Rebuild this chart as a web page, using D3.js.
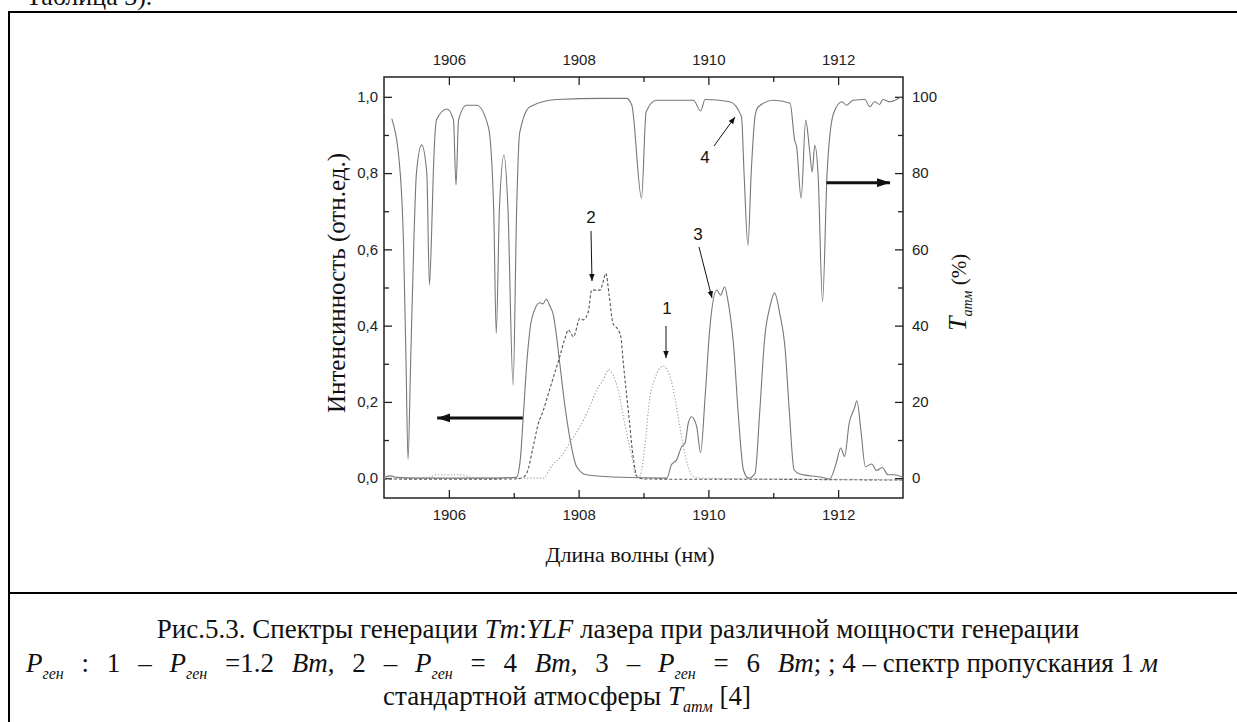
<!DOCTYPE html>
<html>
<head>
<meta charset="utf-8">
<script src="https://cdn.jsdelivr.net/npm/d3@7"></script>
<style>
  body { margin: 0; background: #fff; }
  svg { display: block; }
  .tick text { font-family: "Liberation Sans", Arial, sans-serif; font-size: 15px; fill: #222; }
  .tick line { stroke: #222; stroke-width: 1.3; }
  .serif { font-family: "Liberation Serif", "Times New Roman", serif; fill: #111; }
  .num { font-family: "Liberation Sans", Arial, sans-serif; font-size: 17px; fill: #111; }
</style>
</head>
<body>
<script>
// axis ticks
let xTicks = [1906, 1908, 1910, 1912];
let xMinor = [1907, 1909, 1911];
let yTicks = [0, 0.2, 0.4, 0.6, 0.8, 1.0];
let yMinor = [0.1, 0.3, 0.5, 0.7, 0.9];
let tTicks = [0, 20, 40, 60, 80, 100];
let tMinor = [10, 30, 50, 70, 90];

// 4 - transmission of 1 m standard atmosphere, %
let atmWl = [1905.12, 1905.25, 1905.30, 1905.34, 1905.37, 1905.41, 1905.46, 1905.50, 1905.58, 1905.66,
  1905.70, 1905.735, 1905.76, 1905.81, 1905.97, 1906.07, 1906.11, 1906.15, 1906.27, 1906.43,
  1906.61, 1906.69, 1906.73, 1906.78, 1906.85, 1906.91, 1906.99, 1907.045, 1907.09, 1907.25,
  1907.66, 1908.38, 1908.74, 1908.82, 1908.97, 1909.04, 1909.20, 1909.77, 1909.88, 1909.95,
  1910.33, 1910.51, 1910.55, 1910.61, 1910.66, 1910.72, 1910.77, 1911.00, 1911.26, 1911.33,
  1911.36, 1911.43, 1911.50, 1911.56, 1911.60, 1911.64, 1911.69, 1911.76, 1911.83, 1911.93,
  1912.06, 1912.13, 1912.23, 1912.41, 1912.49, 1912.56, 1912.64, 1912.69, 1912.80, 1912.97];
let atmT = [94.3, 80, 62, 30, 5, 30, 62, 80, 87.4, 80,
  50.7, 65, 80, 94, 96.8, 94, 76.9, 94, 97.8, 97.8,
  92, 71, 38, 71, 84.7, 71, 24.4, 71, 90.4, 97.4,
  99.3, 99.6, 99.6, 97.8, 73.4, 96, 99.1, 99.1, 96.3, 99.3,
  98.7, 94.8, 80, 61, 80, 95, 97.4, 99.1, 98.3, 88.6,
  86.9, 73.4, 93.9, 86, 80.3, 87.3, 80, 46.3, 80, 95.7,
  98.7, 97.8, 99.1, 99.3, 97.4, 98.7, 98, 99.3, 98.7, 100];

// 1 - P = 1.2 W (dotted)
let gen1Wl = [1905.0, 1905.7, 1905.8, 1906.2, 1906.35, 1907.45, 1907.60, 1907.73, 1907.86, 1908.02,
  1908.15, 1908.28, 1908.38, 1908.46, 1908.53, 1908.61, 1908.71, 1908.82, 1908.89, 1908.93,
  1908.97, 1909.02, 1909.10, 1909.17, 1909.30, 1909.40, 1909.48, 1909.56, 1909.66, 1909.77,
  1909.9, 1911.0, 1912.0, 1913.0];
let gen1 = [0, 0.002, 0.009, 0.009, 0.002, 0, 0.035, 0.057, 0.092, 0.135,
  0.179, 0.231, 0.258, 0.284, 0.271, 0.231, 0.144, 0.057, 0.004, 0.002,
  0.02, 0.083, 0.214, 0.258, 0.294, 0.271, 0.214, 0.135, 0.048, 0.004,
  0, -0.002, -0.003, -0.004];

// 2 - P = 4 W (dashed)
let gen2Wl = [1905.0, 1906.0, 1907.0, 1907.12, 1907.20, 1907.30, 1907.38, 1907.45, 1907.55, 1907.63,
  1907.71, 1907.79, 1907.84, 1907.92, 1908.02, 1908.07, 1908.15, 1908.20, 1908.33, 1908.37,
  1908.42, 1908.47, 1908.53, 1908.61, 1908.65, 1908.69, 1908.77, 1908.84, 1908.90, 1909.0,
  1910.0, 1911.0, 1912.0, 1913.0];
let gen2 = [-0.002, -0.003, -0.002, 0, 0.013, 0.083, 0.144, 0.175, 0.231, 0.275,
  0.319, 0.367, 0.389, 0.371, 0.419, 0.415, 0.437, 0.493, 0.493, 0.51,
  0.537, 0.48, 0.406, 0.389, 0.371, 0.30, 0.17, 0.057, 0.004, -0.002,
  -0.003, -0.003, -0.004, -0.005];

// 3 - P = 6 W (solid)
let gen3Wl = [1905.0, 1905.1, 1905.2, 1905.5, 1906.5, 1907.04, 1907.10, 1907.15, 1907.20, 1907.25,
  1907.33, 1907.40, 1907.45, 1907.50, 1907.56, 1907.61, 1907.66, 1907.71, 1907.79, 1907.87,
  1907.97, 1908.12, 1908.53, 1909.36, 1909.43, 1909.51, 1909.59, 1909.64, 1909.69, 1909.74,
  1909.82, 1909.88, 1909.95, 1910.02, 1910.13, 1910.19, 1910.25, 1910.30, 1910.39, 1910.46,
  1910.54, 1910.62, 1910.72, 1910.79, 1910.87, 1910.95, 1911.02, 1911.10, 1911.18, 1911.25,
  1911.32, 1911.41, 1911.72, 1911.87, 1911.97, 1912.04, 1912.10, 1912.17, 1912.25, 1912.29,
  1912.35, 1912.42, 1912.52, 1912.59, 1912.68, 1912.77, 1912.87, 1913.0];
let gen3 = [0.002, 0.006, 0.002, 0, 0, 0.002, 0.048, 0.17, 0.30, 0.39,
  0.445, 0.46, 0.457, 0.469, 0.45, 0.428, 0.371, 0.30, 0.188, 0.10,
  0.03, 0.009, 0.003, 0, 0.035, 0.048, 0.083, 0.092, 0.144, 0.161,
  0.135, 0.067, 0.214, 0.389, 0.493, 0.48, 0.502, 0.467, 0.345, 0.17,
  0.022, 0, 0.013, 0.17, 0.371, 0.45, 0.486, 0.432, 0.345, 0.17,
  0.022, 0.011, 0.003, -0.002, 0.039, 0.079, 0.057, 0.144, 0.183, 0.203,
  0.127, 0.03, 0.037, 0.02, 0.028, 0.009, 0.009, 0.002];

let svgWidth = 1237;
let svgHeight = 722;

let plot = { left: 384, top: 77, right: 903, bottom: 498 };

let svg = d3.select("body")
  .append("svg")
  .attr("width", svgWidth)
  .attr("height", svgHeight);

let defs = svg.append("defs");
defs.append("clipPath").attr("id", "clip")
  .append("rect")
  .attr("x", plot.left).attr("y", plot.top)
  .attr("width", plot.right - plot.left).attr("height", plot.bottom - plot.top);

// arrow heads
defs.append("marker").attr("id", "headThin")
  .attr("viewBox", "0 0 10 10").attr("refX", 10).attr("refY", 5)
  .attr("markerWidth", 7).attr("markerHeight", 7).attr("markerUnits", "userSpaceOnUse")
  .attr("orient", "auto")
  .append("path").attr("d", "M0,1 L10,5 L0,9 Z").attr("fill", "#111");
defs.append("marker").attr("id", "headThick")
  .attr("viewBox", "0 0 10 10").attr("refX", 10).attr("refY", 5)
  .attr("markerWidth", 13).attr("markerHeight", 9).attr("markerUnits", "userSpaceOnUse")
  .attr("orient", "auto").attr("preserveAspectRatio", "none")
  .append("path").attr("d", "M0,0 L10,5 L0,10 Z").attr("fill", "#111");

// page frame and the caption divider
svg.append("text").attr("class", "serif")
  .attr("x", 26).attr("y", 5).style("font-size", "26px")
  .text("Таблица 3).");
svg.append("path")
  .attr("d", `M9,${svgHeight + 5} V12 H${svgWidth + 5}`)
  .attr("fill", "none").attr("stroke", "#000").attr("stroke-width", 2);
svg.append("line")
  .attr("x1", 9).attr("x2", svgWidth + 5).attr("y1", 593).attr("y2", 593)
  .attr("stroke", "#000").attr("stroke-width", 2);

// scales
let x = d3.scaleLinear().domain([1905, 1913]).range([plot.left, plot.right]);
let y = d3.scaleLinear().domain([-0.052, 1.052]).range([plot.bottom, plot.top]);
let yT = d3.scaleLinear().domain([-5.2, 105.2]).range([plot.bottom, plot.top]);

let comma = d => d3.format(".1f")(d).replace(".", ",");

function addAxis(axisFn, scale, major, minor, fmt, tx, ty, pad) {
  let g = svg.append("g").attr("transform", `translate(${tx},${ty})`);
  g.call(axisFn(scale).tickValues(major).tickFormat(fmt).tickSize(-8).tickPadding(pad));
  g.call(gg => gg.select(".domain").remove());
  let m = svg.append("g").attr("transform", `translate(${tx},${ty})`);
  m.call(axisFn(scale).tickValues(minor).tickFormat("").tickSize(-5));
  m.select(".domain").remove();
  return g;
}

addAxis(d3.axisBottom, x, xTicks, xMinor, d3.format("d"), 0, plot.bottom, 11);
addAxis(d3.axisTop, x, xTicks, xMinor, d3.format("d"), 0, plot.top, 12);
addAxis(d3.axisLeft, y, yTicks, yMinor, comma, plot.left, 0, 6);
addAxis(d3.axisRight, yT, tTicks, tMinor, d3.format("d"), plot.right, 0, 9);

svg.append("rect")
  .attr("x", plot.left).attr("y", plot.top)
  .attr("width", plot.right - plot.left).attr("height", plot.bottom - plot.top)
  .attr("fill", "none").attr("stroke", "#222").attr("stroke-width", 1.5);

// curves
let lineL = d3.line().x(d => x(d[0])).y(d => y(d[1])).curve(d3.curveMonotoneX);
let lineT = d3.line().x(d => x(d[0])).y(d => yT(d[1])).curve(d3.curveMonotoneX);

let curves = svg.append("g").attr("clip-path", "url(#clip)").attr("fill", "none");

curves.append("path")
  .attr("d", lineT(d3.zip(atmWl, atmT)))
  .attr("stroke", "#777").attr("stroke-width", 1.1);
curves.append("path")
  .attr("d", lineL(d3.zip(gen3Wl, gen3)))
  .attr("stroke", "#777").attr("stroke-width", 1.1);
curves.append("path")
  .attr("d", lineL(d3.zip(gen2Wl, gen2)))
  .attr("stroke", "#555").attr("stroke-width", 1.1).attr("stroke-dasharray", "3,2");
curves.append("path")
  .attr("d", lineL(d3.zip(gen1Wl, gen1)))
  .attr("stroke", "#999").attr("stroke-width", 1.1).attr("stroke-dasharray", "1.2,2");

// axis-pointing arrows
svg.append("line")
  .attr("x1", x(1907.14)).attr("x2", x(1905.82))
  .attr("y1", y(0.158)).attr("y2", y(0.158))
  .attr("stroke", "#111").attr("stroke-width", 3).attr("marker-end", "url(#headThick)");
svg.append("line")
  .attr("x1", x(1911.82)).attr("x2", x(1912.8))
  .attr("y1", yT(77.5)).attr("y2", yT(77.5))
  .attr("stroke", "#111").attr("stroke-width", 3).attr("marker-end", "url(#headThick)");

// curve numbers with pointer arrows
let labels = [
  { t: "4", lx: 705, ly: 157, x1: 714, y1: 146, x2: 735, y2: 117 },
  { t: "2", lx: 591, ly: 217, x1: 591, y1: 231, x2: 592, y2: 281 },
  { t: "3", lx: 698, ly: 234, x1: 699, y1: 247, x2: 712, y2: 298 },
  { t: "1", lx: 667, ly: 308, x1: 666, y1: 326, x2: 666, y2: 358 }
];
labels.forEach(l => {
  svg.append("text").attr("class", "num")
    .attr("x", l.lx).attr("y", l.ly).attr("dy", "0.36em")
    .attr("text-anchor", "middle").text(l.t);
  svg.append("line")
    .attr("x1", l.x1).attr("y1", l.y1).attr("x2", l.x2).attr("y2", l.y2)
    .attr("stroke", "#111").attr("stroke-width", 1).attr("marker-end", "url(#headThin)");
});

// axis titles
svg.append("text").attr("class", "serif")
  .attr("transform", "translate(345,283) rotate(-90)")
  .attr("text-anchor", "middle").style("font-size", "25px")
  .text("Интенсинность (отн.ед.)");

svg.append("text").attr("class", "serif")
  .attr("x", 630).attr("y", 562)
  .attr("text-anchor", "middle").style("font-size", "22px")
  .text("Длина волны (нм)");

let tTitle = svg.append("text").attr("class", "serif")
  .attr("transform", "translate(966,331) rotate(-90)");
tTitle.append("tspan").style("font-style", "italic").style("font-size", "26px").text("T");
tTitle.append("tspan").style("font-style", "italic").style("font-size", "14px").attr("dy", 6).text("атм");
tTitle.append("tspan").style("font-size", "21px").attr("dy", -6).text(" (%)");

// caption
function caption(parts, px, py, anchor, fitWidth) {
  let t = svg.append("text").attr("class", "serif")
    .attr("x", px).attr("y", py).attr("text-anchor", anchor)
    .style("font-size", "27px");
  let spans = parts.map(p => {
    let s = t.append("tspan").text(p.s);
    if (p.i) s.style("font-style", "italic");
    if (p.sub) s.style("font-size", "16px").attr("dy", 7);
    if (p.up) s.attr("dy", -7);
    return s;
  });
  if (fitWidth) {
    // the formula part is set looser than plain text: spread the gap over its spaces
    let len = t.node().getComputedTextLength();
    let spaces = parts.filter(p => p.f).map(p => p.s).join("").split(" ").length - 1;
    let ws = Math.max(0, (fitWidth - len) / spaces);
    spans.forEach((s, k) => { if (parts[k].f) s.style("word-spacing", `${ws}px`); });
  }
}

caption([
  { s: "Рис.5.3. Спектры генерации " }, { s: "Tm", i: 1 }, { s: ":" }, { s: "YLF", i: 1 },
  { s: "  лазера при различной мощности генерации" }
], 618, 638, "middle");

caption([
  { s: "P", i: 1, f: 1 }, { s: "ген", i: 1, sub: 1, f: 1 }, { s: " : 1 – ", up: 1, f: 1 },
  { s: "P", i: 1, f: 1 }, { s: "ген", i: 1, sub: 1, f: 1 }, { s: " =1.2 ", up: 1, f: 1 }, { s: "Bm", i: 1, f: 1 }, { s: ", 2 – ", f: 1 },
  { s: "P", i: 1, f: 1 }, { s: "ген", i: 1, sub: 1, f: 1 }, { s: " = 4 ", up: 1, f: 1 }, { s: "Bm", i: 1, f: 1 }, { s: ", 3 – ", f: 1 },
  { s: "P", i: 1, f: 1 }, { s: "ген", i: 1, sub: 1, f: 1 }, { s: " = 6 ", up: 1, f: 1 }, { s: "Bm", i: 1, f: 1 },
  { s: "; ; 4 – спектр пропускания 1 " }, { s: "м", i: 1 }
], 26, 672, "start", 1132);

caption([
  { s: "стандартной атмосферы " }, { s: "T", i: 1 }, { s: "атм", i: 1, sub: 1 }, { s: "  [4]", up: 1 }
], 567, 705, "middle");
</script>
</body>
</html>
